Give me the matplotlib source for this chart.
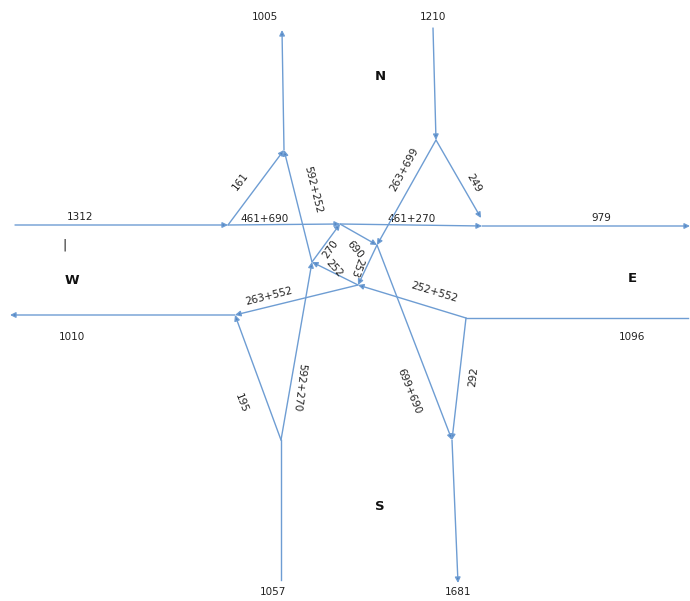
import matplotlib
matplotlib.use("Agg")
import matplotlib.pyplot as plt

# Approach volumes (text labels)
edge_labels = ["1312", "979", "1010", "1096", "1005", "1210", "1057", "1681"]
directions = ["N", "S", "W", "E"]
# Turning / link flows
link_labels = ["461+690", "461+270", "161", "592+252", "263+699", "249",
               "270", "690", "253", "252", "263+552", "252+552", "292",
               "699+690", "195", "592+270"]

# Node layout (pixel space of the sketch)
nodes = {
    "Win": (15, 225), "WN": (228, 225), "A": (340, 224), "EX": (482, 226),
    "Eend": (690, 226), "NT": (284, 150), "Nout": (282, 30),
    "Nin": (433, 28), "NN": (436, 140), "NR": (481, 218),
    "B": (377, 245), "C": (358, 285), "D": (312, 262),
    "WO": (235, 315), "Wend": (10, 315), "Ein": (688, 318), "EE": (466, 318),
    "SO": (452, 440), "Send": (458, 583), "Sin": (281, 580), "SS": (281, 440),
}

# (from, to, arrow, label, label_x, label_y, rotation)
segments = [
    ("Win", "WN", True, None),
    ("WN", "A", True, ("461+690", 265, 219, 0)),
    ("A", "EX", True, ("461+270", 412, 219, 0)),
    ("EX", "Eend", True, None),
    ("WN", "NT", True, ("161", 240, 181, 53)),
    ("D", "NT", True, ("592+252", 313, 190, -76)),
    ("NT", "Nout", True, None),
    ("Nin", "NN", True, None),
    ("NN", "B", True, ("263+699", 404, 169, 61)),
    ("NN", "NR", True, ("249", 474, 183, -60)),
    ("D", "A", True, ("270", 330, 249, 55)),
    ("A", "B", True, ("690", 355, 250, -50)),
    ("B", "C", True, ("253", 357, 267, -110)),
    ("C", "D", True, ("252", 334, 268, -48)),
    ("C", "WO", True, ("263+552", 269, 296, 14)),
    ("WO", "Wend", True, None),
    ("Ein", "EE", False, None),
    ("EE", "C", True, ("252+552", 434, 292, -17)),
    ("EE", "SO", True, ("292", 473, 377, 83)),
    ("B", "SO", True, ("699+690", 409, 391, -68)),
    ("SO", "Send", True, None),
    ("Sin", "SS", False, None),
    ("SS", "WO", True, ("195", 241, 403, -69)),
    ("SS", "D", True, ("592+270", 299, 387, -97)),
]

edge_text_pos = [(80, 217), (601, 218), (72, 337), (632, 337),
                 (265, 17), (433, 17), (273, 592), (458, 592)]
dir_text_pos = [(380, 77), (380, 506), (72, 280), (632, 279)]

line_color = "#6e9dd3"
head_color = "#4f82c0"

fig = plt.figure(figsize=(6.9, 6.01), dpi=100)
ax = fig.add_axes([0, 0, 1, 1])
ax.set_xlim(0, 690)
ax.set_ylim(601, 0)
ax.axis("off")

for seg in segments:
    a, b, arrow, lab = seg
    x0, y0 = nodes[a]
    x1, y1 = nodes[b]
    if arrow:
        ax.annotate("", xy=(x1, y1), xytext=(x0, y0),
                    arrowprops=dict(arrowstyle="-|>", color=line_color,
                                    lw=1.0, mutation_scale=8,
                                    shrinkA=0, shrinkB=0,
                                    fc=head_color, ec=line_color))
    else:
        ax.plot([x0, x1], [y0, y1], color=line_color, lw=1.0)
    if lab is not None:
        t, lx, ly, rot = lab
        ax.text(lx, ly, t, rotation=rot, ha="center", va="center",
                fontsize=7.5, color="#222222", rotation_mode="anchor")

for t, (x, y) in zip(edge_labels, edge_text_pos):
    ax.text(x, y, t, ha="center", va="center", fontsize=7.5, color="#222222")

for t, (x, y) in zip(directions, dir_text_pos):
    ax.text(x, y, t, ha="center", va="center", fontsize=9.5,
            fontweight="bold", color="#111111")

ax.text(65, 245, "|", ha="center", va="center", fontsize=9, color="#111111")

fig.savefig("out.png", dpi=100)
